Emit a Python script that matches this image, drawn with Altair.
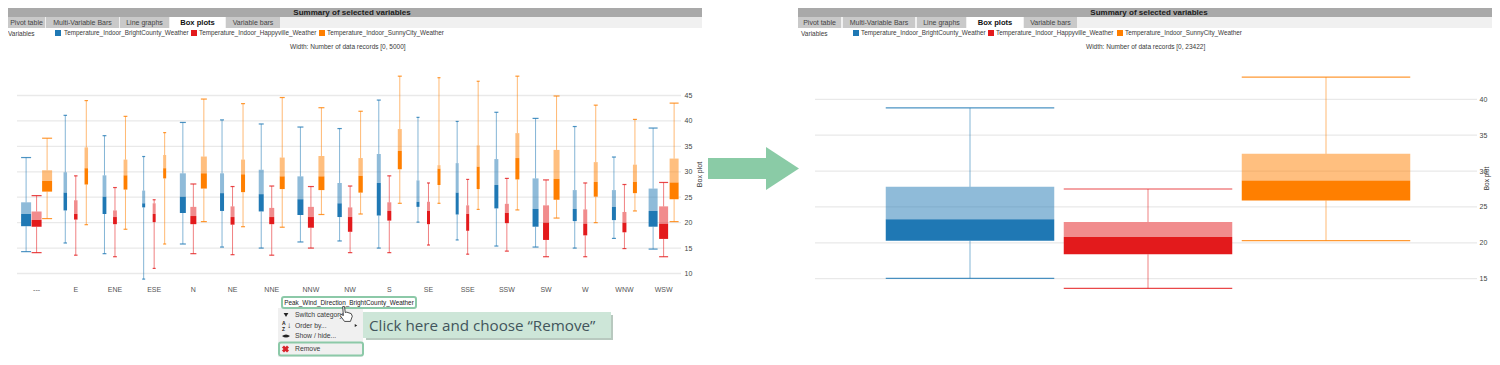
import altair as alt
import pandas as pd

CATS = ["---", "E", "ENE", "ESE", "N", "NE", "NNE", "NNW", "NW", "S", "SE", "SSE", "SSW", "SW", "W", "WNW", "WSW"]
SERIES = ["Temperature_Indoor_BrightCounty_Weather", "Temperature_Indoor_Happyville_Weather", "Temperature_Indoor_SunnyCity_Weather"]
COLORS = ["#1f78b4", "#e31a1c", "#ff7f00"]

blue_hi = [32.8, 41.1, 37.1, 33.0, 39.7, 40.2, 39.4, 38.8, 38.5, 44.1, 40.7, 39.9, 41.7, 40.5, 38.9, 32.9, 38.6]
blue_q3 = [24.0, 29.9, 29.3, 26.3, 29.7, 29.7, 30.4, 29.1, 27.8, 33.5, 28.3, 31.7, 32.5, 28.7, 26.4, 26.4, 26.7]
blue_med = [21.7, 25.9, 25.1, 23.8, 25.1, 25.8, 25.6, 24.6, 23.8, 27.8, 24.1, 25.9, 27.4, 22.7, 22.7, 23.1, 22.3]
blue_q1 = [19.3, 22.4, 21.7, 23.0, 21.9, 22.3, 22.2, 21.5, 21.1, 21.4, 23.1, 21.6, 22.8, 19.2, 20.3, 20.5, 19.2]
blue_lo = [14.3, 16.0, 13.9, 8.9, 15.8, 15.2, 15.0, 16.2, 16.4, 15.0, 20.1, 16.6, 15.4, 15.2, 15.0, 16.9, 14.8]

red_hi = [25.3, 29.2, 26.9, 24.5, 27.6, 27.1, 27.2, 27.1, 27.2, 29.2, 27.8, 28.5, 28.7, 28.4, 27.8, 27.5, 27.9]
red_q3 = [22.2, 24.4, 22.4, 23.8, 23.1, 23.2, 22.9, 23.1, 23.0, 24.0, 24.1, 23.4, 23.7, 23.4, 22.6, 22.1, 23.2]
red_med = [20.5, 21.7, 21.1, 21.7, 21.3, 21.1, 21.1, 21.1, 21.1, 22.3, 22.3, 21.7, 21.9, 20.0, 19.8, 20.0, 19.8]
red_q1 = [19.2, 20.6, 19.7, 20.1, 19.7, 19.6, 19.7, 19.0, 18.2, 20.4, 19.7, 18.4, 19.9, 16.6, 17.5, 18.1, 16.8]
red_lo = [14.1, 13.6, 13.3, 11.0, 13.9, 13.7, 13.6, 15.0, 14.1, 14.1, 15.6, 13.8, 14.4, 13.3, 13.3, 14.9, 13.3]

orange_hi = [36.6, 44.0, 40.9, 37.7, 44.3, 43.4, 44.6, 42.6, 41.9, 48.8, 48.5, 47.8, 48.8, 44.9, 43.1, 40.3, 43.5]
orange_q3 = [30.3, 34.8, 32.4, 33.3, 33.0, 32.4, 32.8, 33.1, 32.7, 38.4, 31.3, 35.2, 37.6, 34.3, 31.9, 31.4, 32.6]
orange_med = [28.2, 30.7, 29.3, 30.7, 29.7, 29.5, 29.1, 29.1, 29.2, 34.1, 30.6, 31.0, 32.7, 28.6, 28.0, 28.0, 27.9]
orange_q1 = [26.1, 27.5, 26.5, 28.7, 26.7, 26.0, 26.6, 26.4, 25.9, 30.5, 27.4, 26.6, 28.5, 24.5, 25.1, 25.8, 24.6]
orange_lo = [20.8, 19.6, 18.7, 15.8, 20.2, 19.2, 19.1, 21.6, 21.7, 23.8, 23.8, 22.6, 22.5, 20.9, 20.0, 22.3, 20.2]

records = [5000, 1750, 1900, 1500, 3000, 2000, 2500, 3000, 2200, 2000, 1500, 1500, 2000, 3000, 2000, 2000, 4500]

right_hi = [38.8, 27.5, 43.1]
right_q3 = [27.8, 22.9, 32.4]
right_med = [23.3, 20.8, 28.7]
right_q1 = [20.3, 18.4, 25.9]
right_lo = [15.05, 13.65, 20.3]
right_records = [23422, 23422, 23422]

left_ticks = [10, 15, 20, 25, 30, 35, 40, 45]
right_ticks = [15, 20, 25, 30, 35, 40]
TABS = ["Pivot table", "Multi-Variable Bars", "Line graphs", "Box plots", "Variable bars"]

rows = []
stats = [
    (blue_lo, blue_q1, blue_med, blue_q3, blue_hi),
    (red_lo, red_q1, red_med, red_q3, red_hi),
    (orange_lo, orange_q1, orange_med, orange_q3, orange_hi),
]
for s, st in zip(SERIES, stats):
    for i, c in enumerate(CATS):
        rows.append(dict(cat=c, series=s, lo=st[0][i], q1=st[1][i], med=st[2][i], q3=st[3][i], hi=st[4][i], n=records[i]))
left_df = pd.DataFrame(rows)
right_df = pd.DataFrame(dict(series=SERIES, lo=right_lo, q1=right_q1, med=right_med, q3=right_q3, hi=right_hi, n=right_records))

one = pd.DataFrame({"a": [0]})
O = 8  # page margin: reference pixels -> chart pixels
W = 1484
H = 349
FONT = "Liberation Sans"
layers = []


def rect(x0, y0, x1, y1, fill="#ffffff", stroke=None, sw=0, corner=0):
    kw = dict(fill=fill, cornerRadius=corner)
    if stroke:
        kw.update(stroke=stroke, strokeWidth=sw)
    layers.append(alt.Chart(one).mark_rect(**kw).encode(
        x=alt.value(max(x0 - O, 0)), x2=alt.value(min(x1 - O, W)), y=alt.value(max(y0 - O, 0)), y2=alt.value(y1 - O)))


def txt(x, y, s, size=6.7, color="#3a3a3a", bold=False, align="left", font=FONT):
    layers.append(alt.Chart(one).mark_text(
        text=s, fontSize=size, color=color, align=align, baseline="middle", font=font,
        fontWeight="bold" if bold else "normal").encode(x=alt.value(x - O), y=alt.value(y - O)))


def sym(x, y, shape, size, fill, stroke=None, sw=0, angle=0):
    kw = dict(shape=shape, size=size, fill=fill, filled=True, opacity=1, angle=angle)
    if stroke:
        kw.update(stroke=stroke, strokeWidth=sw)
    layers.append(alt.Chart(one).mark_point(**kw).encode(x=alt.value(x - O), y=alt.value(y - O)))


def chrome(x0, x1, title_x, tabs, leg, var_x, width_x, width_text):
    rect(x0, 1, x1, 17, "#a9a9a9")
    txt(title_x, 12.5, "Summary of selected variables", 8, "#1a1a1a", True, "center")
    rect(x0, 17, x1, 28, "#f0f0f0")
    for (a, b), name in zip(tabs, TABS):
        on = name == "Box plots"
        rect(a, 17, b, 28, "#ffffff" if on else "#c9c9c9")
        txt((a + b) / 2, 22.7, name, 7.6 if on else 7, "#111111" if on else "#444444", on, "center")
    txt(var_x, 33.5, "Variables", 6.5)
    for (sx, tx), s, c in zip(leg, SERIES, COLORS):
        rect(sx, 30, sx + 6, 36, c)
        txt(tx, 33, s, 6.35)
    txt(width_x, 47, width_text, 6.5)


chrome(8, 702, 352, [(8, 45), (46, 119), (120, 169), (170, 225), (226, 280)],
       [(55, 64), (191, 199), (319, 327)], 8, 290, "Width:  Number of data records  [0, 5000]")
chrome(798, 1500, 1149, [(798, 841), (843, 915), (917, 966), (967, 1023), (1024, 1077)],
       [(853, 861), (988, 996), (1117, 1125)], 801, 1086, "Width:  Number of data records  [0, 23422]")

# ---- grid + boxes, each layer carrying its own explicit scales


def make_panel(df, x_enc, y_scale, ticks, size_scale, extra, gx0, gx1, axis_off, title_y, title_pad, title_size):
    y_field = lambda f: alt.Y(f"{f}:Q", scale=y_scale, axis=None, title=None)
    size = alt.Size("n:Q", scale=size_scale, legend=None)
    col = alt.Color("series:N", scale=alt.Scale(domain=SERIES, range=COLORS), legend=None)
    tick_df = pd.DataFrame({"t": ticks})
    # grid
    layers.append(alt.Chart(tick_df).mark_rule(color="#e9e9e9", strokeWidth=1.3).encode(
        x=alt.value(gx0 - O), x2=alt.value(gx1 - O),
        y=alt.Y("t:Q", scale=y_scale, title="Box plot", axis=alt.Axis(
            orient="right", values=ticks, offset=axis_off, domain=False, ticks=False, grid=False,
            labelPadding=0, labelFont=FONT, labelFontSize=7, labelColor="#444444",
            titleFont=FONT, titleFontSize=title_size, titleFontWeight="normal", titleColor="#333333",
            titleAngle=270, titlePadding=title_pad, titleY=title_y))))
    # the axis (category labels) is drawn by the first data layer only
    first = alt.Chart(df).encode(x=x_enc(True), color=col, **extra)
    base = alt.Chart(df).encode(x=x_enc(False), color=col, **extra)
    layers.append(first.mark_rule(strokeWidth=1, opacity=0.55).encode(y=y_field("lo"), y2="q1:Q"))
    layers.append(base.mark_rule(strokeWidth=1, opacity=0.55).encode(y=y_field("q3"), y2="hi:Q"))
    layers.append(base.mark_tick(thickness=1.2, opacity=0.8).encode(y=y_field("lo"), size=size))
    layers.append(base.mark_tick(thickness=1.2, opacity=0.8).encode(y=y_field("hi"), size=size))
    layers.append(base.mark_bar(opacity=1).encode(y=y_field("q1"), y2="med:Q", size=size))
    layers.append(base.mark_bar(opacity=0.5).encode(y=y_field("med"), y2="q3:Q", size=size))


left_y = alt.Scale(domain=[10, 45], range=[273.5 - O, 95.5 - O], nice=False, zero=False)
right_y = alt.Scale(domain=[15, 40], range=[278.7 - O, 99.3 - O], nice=False, zero=False)
left_band = alt.Scale(domain=CATS, range=[17 - O, 683.2 - O], paddingInner=0, paddingOuter=0)
right_band = alt.Scale(domain=SERIES, range=[881 - O, 1415 - O], paddingInner=0, paddingOuter=0)


def left_x(with_axis):
    ax = None
    if with_axis:
        ax = alt.Axis(orient="bottom", offset=-76, domain=False, ticks=False, grid=False, labelAngle=0,
                      labelOverlap=False, labelFont=FONT, labelFontSize=7, labelColor="#555555",
                      labelPadding=4, title=None)
    return alt.X("cat:N", scale=left_band, sort=CATS, axis=ax, title=None)


def right_x(with_axis):
    return alt.X("series:N", scale=right_band, sort=SERIES, axis=None, title=None)


left_extra = dict(xOffset=alt.XOffset("series:N", sort=SERIES,
                                      scale=alt.Scale(domain=SERIES, range=[3.85, 35.35], paddingInner=0, paddingOuter=0)))
make_panel(left_df, left_x, left_y, left_ticks, alt.Scale(domain=[0, 5000], range=[0, 10]), left_extra,
           17, 681, 676 - W, 166, 11, 7)
make_panel(right_df, right_x, right_y, right_ticks, alt.Scale(domain=[0, 23422], range=[0, 168.5]), {},
           815, 1477, 1471 - W, 170, 3, 6.5)

# ---- arrow between the panels
rect(708, 158, 766, 179, "#8acba6")
sym(782.5, 168.5, "M -0.767 -1 L 0.767 0 L -0.767 1 Z", 1849, "#8acba6")

# ---- annotation (menu rows tightened so that the last one stays on the page)
rect(278, 308, 363, 357, "#f0f0f0")
rect(282, 297, 416, 308, "#ffffff", "#8cc9a8", 2, 2)
txt(349, 302.5, "Peak_Wind_Direction_BrightCounty_Weather", 6.4, "#222222", False, "center")
sym(286, 315, "triangle-down", 22, "#222222")
txt(295, 315, "Switch category", 6.8)
txt(282, 322.5, "A", 5, "#222222", True)
txt(282, 328.5, "Z", 5, "#222222", True)
txt(289, 325.5, "↓", 8, "#222222", True, "center")
txt(295, 325.5, "Order by...", 6.8)
sym(356, 325.5, "triangle-right", 8, "#222222")
sym(286, 336, "M -1 0 Q 0 -0.8 1 0 Q 0 0.8 -1 0 Z", 64, "#222222")
txt(295, 336, "Show / hide...", 6.8)
rect(279, 342.5, 363, 355.5, "#f0f0f0", "#8cc9a8", 2, 2)
sym(285.5, 349, "cross", 50, "#d8232a", angle=45)
txt(295, 349, "Remove", 6.8)
rect(366, 315, 613, 340, "#b8c9bf")
rect(363, 312, 611, 338, "#cde6d8")
txt(369, 325.5, "Click here and choose “Remove”", 15.2, "#42555c", False, "left", "Open Sans")
sym(346, 314, "M -0.45 -1 L -0.2 -1 L -0.1 -0.2 L 0.1 -0.25 L 0.7 -0.05 L 0.85 0.3 L 0.6 1 L -0.2 1 L -0.8 0.2 L -0.7 0.05 L -0.35 0.2 Z",
    220, "#ffffff", "#222222", 0.8)

chart = alt.layer(*layers).resolve_scale(x="independent", y="independent", size="independent").resolve_axis(
    x="independent", y="independent"
).properties(
    width=W, height=H, padding=0, autosize=alt.AutoSizeParams(type="none")
).configure(background="#ffffff", view=alt.ViewConfig(stroke=None))

chart.save("out.html", embed_options={"renderer": "svg", "actions": False})
